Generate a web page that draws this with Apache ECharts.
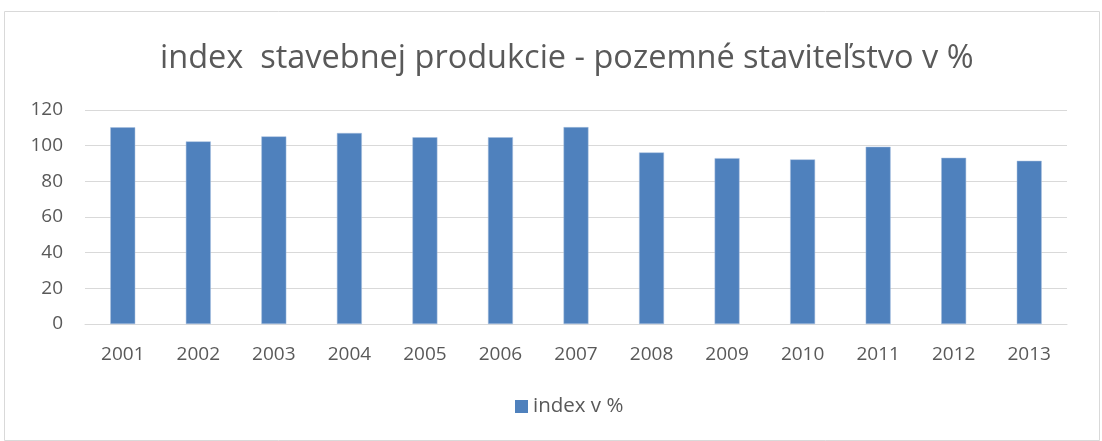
<!DOCTYPE html>
<html>
<head>
<meta charset="utf-8">
<script src="https://cdn.jsdelivr.net/npm/echarts@6/dist/echarts.min.js"></script>
<style>
html,body{margin:0;padding:0;background:#fff;}
#main{width:1102px;height:441px;}
</style>
</head>
<body>
<div id="main"></div>
<script>
// data
var roky = ['2001','2002','2003','2004','2005','2006','2007','2008','2009','2010','2011','2012','2013'];
var index_v_pct = [110.3,102.4,105.2,107.1,104.7,104.7,110.4,96.2,93.0,92.3,99.4,93.2,91.5];
var yTicks = [0,20,40,60,80,100,120];

var chart = echarts.init(document.getElementById('main'));
chart.setOption({
    color:['#4f81bd'],
    animation:false,
    textStyle:{fontFamily:'Open Sans'},
    title:{
        text:'index  stavebnej produkcie - pozemné staviteľstvo v %',
        left:155,
        top:37,
        textStyle:{
            fontFamily:'Open Sans',
            fontWeight:'normal',
            fontSize:32.5,
            color:'#595959'
        }
    },
    // ramik okolo grafu
    graphic:[
        {
            type:'rect',
            shape:{x:4.5,y:11.5,width:1095,height:429},
            style:{fill:'none',stroke:'#d9d9d9',lineWidth:1},
            silent:true
        }
    ],
    legend:{
        data:['index v %'],
        bottom:19,
        left:510,
        icon:'rect',
        itemWidth:13,
        itemHeight:13,
        itemGap:6,
        itemStyle:{borderWidth:0},
        textStyle:{fontSize:20.5,color:'#595959'}
    },
    grid:{
        top:110,
        left:85,
        right:35,
        bottom:117,
        containLabel:false
    },
    xAxis:[
        {
            type:'category',
            data:roky,
            axisTick:{show:false},
            axisLine:{lineStyle:{color:'#d9d9d9',width:1}},
            axisLabel:{fontSize:19,color:'#595959',margin:21},
            splitLine:{show:false}
        }
    ],
    yAxis:[
        {
            type:'value',
            min:yTicks[0],
            max:yTicks[yTicks.length-1],
            interval:20,
            axisLabel:{fontSize:19,color:'#595959',margin:22},
            axisLine:{show:false},
            axisTick:{show:false},
            splitLine:{lineStyle:{color:'#d9d9d9',width:1}}
        }
    ],
    series:[
        {
            name:'index v %',
            type:'bar',
            barWidth:'33%',
            itemStyle:{color:'#4f81bd',borderColor:'#a7bfde',borderWidth:0.5},
            data:index_v_pct
        }
    ]
});
</script>
</body>
</html>
